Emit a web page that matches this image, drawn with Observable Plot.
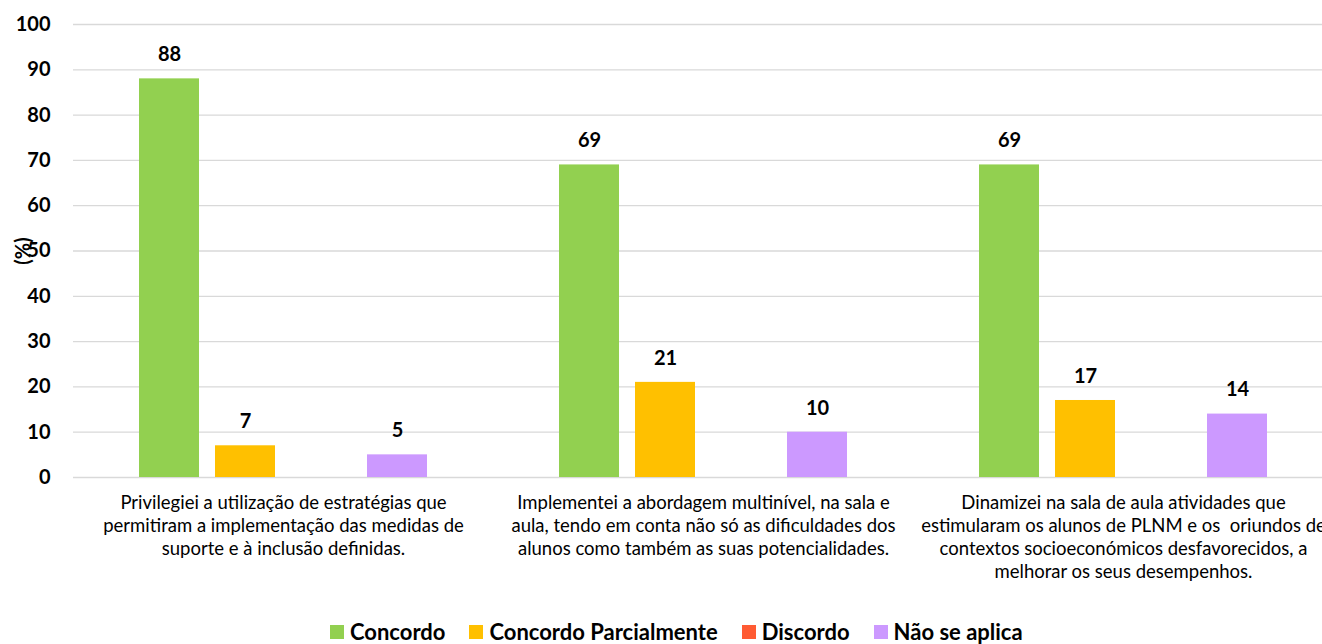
<!DOCTYPE html>
<html>
<head>
<meta charset="utf-8">
<script src="https://cdn.jsdelivr.net/npm/d3@7"></script>
<script src="https://cdn.jsdelivr.net/npm/@observablehq/plot@0.6"></script>
<style>
  html, body { margin: 0; padding: 0; background: #fff; overflow: hidden; width: 1322px; height: 644px; }
  #chart svg { display: block; overflow: visible; max-width: none; }
  #legend { position: absolute; left: 0; top: 621px; width: 1322px; height: 22px;
    display: flex; justify-content: flex-start; align-items: center; gap: 24px;
    font-family: Lato, "Liberation Sans", sans-serif; font-weight: bold; font-size: 22px; color: #000;
    line-height: 22px; padding-left: 330px; box-sizing: border-box; }
  #legend .item { display: flex; align-items: center; gap: 6px; }
  #legend .sw { width: 14px; height: 14px; display: inline-block; }
</style>
</head>
<body>
<div id="chart"></div>
<div id="legend"></div>
<script>
const groups = [
  "Privilegiei a utilização de estratégias que\npermitiram a implementação das medidas de\nsuporte e à inclusão definidas.",
  "Implementei a abordagem multinível, na sala e\naula, tendo em conta não só as dificuldades dos\nalunos como também as suas potencialidades.",
  "Dinamizei na sala de aula atividades que\nestimularam os alunos de PLNM e os  oriundos de\ncontextos socioeconómicos desfavorecidos, a\nmelhorar os seus desempenhos."
];
const series = ["Concordo", "Concordo Parcialmente", "Discordo", "Não se aplica"];
const concordo = [88, 69, 69];
const concordoParcialmente = [7, 21, 17];
const discordo = [0, 0, 0];
const naoSeAplica = [5, 10, 14];
const colors = ["#92D050", "#FFC000", "#FF5B33", "#CC99FF"];
const yTicks = [0, 10, 20, 30, 40, 50, 60, 70, 80, 90, 100];

const valuesBySeries = [concordo, concordoParcialmente, discordo, naoSeAplica];
const data = [];
groups.forEach((g, gi) => {
  series.forEach((s, si) => {
    data.push({group: g, series: s, value: valuesBySeries[si][gi]});
  });
});

const font = 'Lato, "Liberation Sans", sans-serif';

const chart = Plot.plot({
  width: 1334,
  height: 620,
  marginLeft: 72,
  marginRight: 0,
  marginTop: 24,
  marginBottom: 143,
  style: {fontFamily: font, color: "#000", background: "#fff", overflow: "visible", maxWidth: "none"},
  fx: {domain: groups, padding: 0, label: null},
  x: {domain: series, paddingInner: 0.214, paddingOuter: 0.861, axis: null},
  y: {domain: [0, 100], label: "(%)"},
  color: {domain: series, range: colors},
  marks: [
    Plot.ruleY(yTicks, {stroke: "#d9d9d9", strokeWidth: 1.3}),
    Plot.barY(data, {fx: "group", x: "series", y: "value", fill: "series"}),
    Plot.text(data.filter(d => d.value > 0), {
      fx: "group", x: "series", y: "value", text: d => String(d.value),
      dy: -24, lineAnchor: "middle", fontWeight: "bold", fontSize: 20, fill: "#000"
    }),
    Plot.axisY({
      ticks: yTicks, tickSize: 0, tickPadding: 23, fontWeight: "bold", fontSize: 20,
      label: "(%)", labelAnchor: "center", labelArrow: "none", labelOffset: 58
    }),
    Plot.axisFx({
      anchor: "bottom", tickSize: 0, tickPadding: 15, fontSize: 18.5, lineHeight: 1.24,
      label: null, tickFormat: d => d
    })
  ]
});

chart.querySelectorAll('g[aria-label="y-axis label"] text').forEach(t => {
  t.setAttribute("font-weight", "bold");
  t.setAttribute("font-size", "20");
});

document.getElementById("chart").appendChild(chart);

const legend = document.getElementById("legend");
series.forEach((s, i) => {
  const item = document.createElement("div");
  item.className = "item";
  const sw = document.createElement("span");
  sw.className = "sw";
  sw.style.background = colors[i];
  const label = document.createElement("span");
  label.textContent = s;
  item.appendChild(sw);
  item.appendChild(label);
  legend.appendChild(item);
});
</script>
</body>
</html>
